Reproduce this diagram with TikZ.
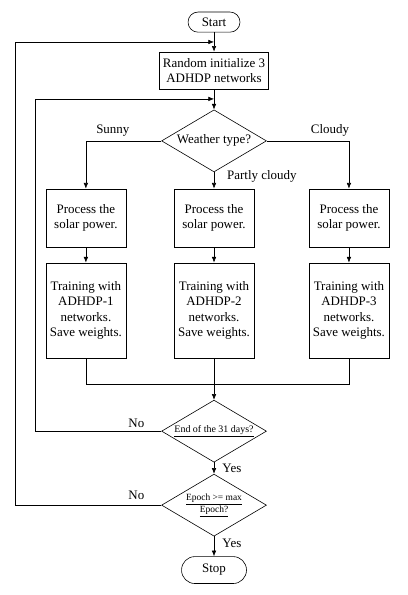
\documentclass[tikz,border=0pt]{standalone}
\usepackage{fontspec}
\setmainfont{Liberation Serif}
\usetikzlibrary{arrows.meta,positioning,calc,shapes.geometric}
\tikzset{
  box/.style={draw=black, line width=0.6pt, align=center, inner sep=1pt, font=\fontsize{13}{15.5}\selectfont},
  termbox/.style={box, minimum width=1.83cm, minimum height=0.71cm, rounded corners=3.5mm},
  initbox/.style={box, minimum width=3.85cm, minimum height=1.31cm},
  procbox/.style={box, minimum width=2.82cm, minimum height=2.05cm},
  trainbox/.style={box, minimum width=2.82cm, minimum height=3.35cm},
  decision/.style={diamond, draw=black, line width=0.6pt, align=center, inner sep=0pt, aspect=1.7, minimum width=3.7cm, minimum height=2.19cm},
  lbl/.style={font=\fontsize{13}{15.5}\selectfont, inner sep=1pt},
  arrow/.style={-{Latex[length=2mm,width=1.6mm]}, line width=0.6pt},
  line/.style={line width=0.6pt}
}
\begin{document}
\begin{tikzpicture}
  \useasboundingbox (0,0) rectangle (14.39,-20.99);
  % main column
  \node[termbox] (start) at (7.55,-0.78) {Start};
  \node[initbox] (init) at (7.55,-2.49) {Random initialize 3\\ADHDP networks};
  \node[decision, font=\fontsize{13}{15.5}\selectfont] (weather) at (7.55,-4.97) {Weather type?};
  % three branches
  \node[procbox] (proc1) at (3.03,-7.69) {Process the\\solar power.};
  \node[procbox] (proc2) at (7.55,-7.69) {Process the\\solar power.};
  \node[procbox] (proc3) at (12.31,-7.69) {Process the\\solar power.};
  \node[trainbox] (train1) at (3.03,-10.95) {Training with\\ADHDP-1\\networks.\\Save weights.};
  \node[trainbox] (train2) at (7.55,-10.95) {Training with\\ADHDP-2\\networks.\\Save weights.};
  \node[trainbox] (train3) at (12.31,-10.95) {Training with\\ADHDP-3\\networks.\\Save weights.};
  % checks
  \node[decision, font=\fontsize{10}{12}\selectfont] (days) at (7.55,-15.21) {\underline{End of the 31 days?}};
  \node[decision, font=\fontsize{9.5}{12}\selectfont] (epoch) at (7.55,-17.82) {\underline{Epoch >= max}\\\underline{Epoch?}};
  \node[termbox, minimum width=2.29cm, minimum height=0.95cm, rounded corners=4.7mm] (stop) at (7.55,-20.11) {Stop};
  % junctions
  \coordinate (outerj) at (7.55,-1.48);
  \coordinate (innerj) at (7.55,-3.49);
  \coordinate (merge) at (7.55,-13.55);
  % connectors
  \draw[arrow] (start) -- (init);
  \draw[arrow] (init) -- (weather);
  \draw[arrow] (weather.west) -| (proc1.north);
  \draw[arrow] (weather.east) -| (proc3.north);
  \draw[arrow] (weather.south) -- (proc2.north);
  \draw[arrow] (proc1) -- (train1);
  \draw[arrow] (proc2) -- (train2);
  \draw[arrow] (proc3) -- (train3);
  \draw[line] (train1.south) |- (merge) -| (train3.south);
  \draw[arrow] (train2.south) -- (days.north);
  \draw[arrow] (days.south) -- (epoch.north);
  \draw[arrow] (epoch.south) -- (stop.north);
  \draw[arrow] (days.west) -- (1.23,-15.21) |- (innerj);
  \draw[arrow] (epoch.west) -- (0.53,-17.82) |- (outerj);
  % labels
  \node[lbl] (sunny) at (3.98,-4.59) {Sunny};
  \node[lbl] (cloudy) at (11.64,-4.59) {Cloudy};
  \node[lbl] (partly) at (9.24,-6.24) {Partly cloudy};
  \node[lbl] (no1) at (4.81,-14.92) {No};
  \node[lbl] (no2) at (4.81,-17.46) {No};
  \node[lbl] (yes1) at (8.18,-16.51) {Yes};
  \node[lbl] (yes2) at (8.18,-19.16) {Yes};
\end{tikzpicture}
\end{document}
